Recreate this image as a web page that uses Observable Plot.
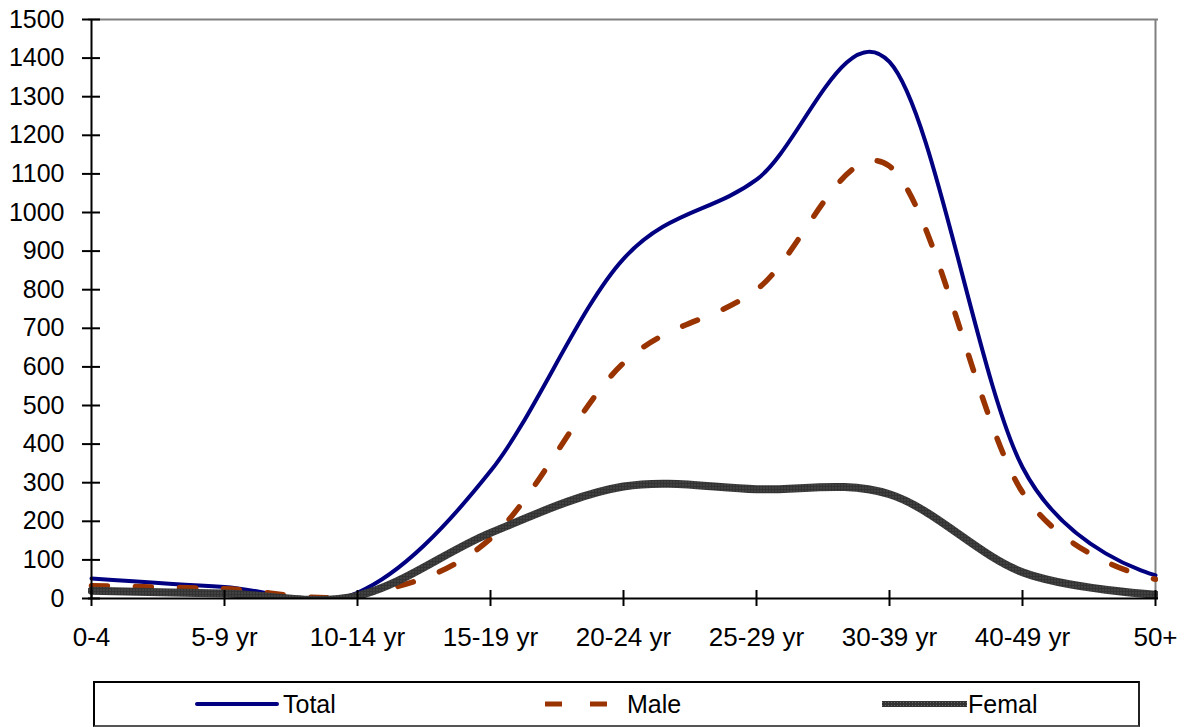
<!DOCTYPE html>
<html>
<head>
<meta charset="utf-8">
<script src="https://cdn.jsdelivr.net/npm/d3@7"></script>
<script src="https://cdn.jsdelivr.net/npm/@observablehq/plot@0.6"></script>
<style>
  html, body { margin: 0; padding: 0; background: #fff; }
  #wrap { position: relative; width: 1192px; height: 727px; overflow: hidden; font-family: "Liberation Sans", Arial, sans-serif; }
  #legend { position: absolute; left: 93px; top: 681px; width: 1043px; height: 42px; border: 2px solid #000; border-bottom-color: #555; border-right-color: #222; box-sizing: content-box; }
  .lg { position: absolute; font-size: 25px; top: 7px; color: #000; }
</style>
</head>
<body>
<div id="wrap"></div>
<script>
const categories = ["0-4", "5-9 yr", "10-14 yr", "15-19 yr", "20-24 yr", "25-29 yr", "30-39 yr", "40-49 yr", "50+"];
const total  = [52, 30, 15, 330, 880, 1085, 1390, 340, 60];
const male   = [33, 25, 9, 155, 610, 800, 1120, 275, 50];
const female = [20, 13, 7, 170, 290, 283, 270, 68, 10];
const yTicks = d3.range(0, 1501, 100);
const seriesNames = ["Total", "Male", "Femal"];

const rows = (vals) => categories.map((c, i) => ({cat: c, v: vals[i]}));

const plot = Plot.plot({
  width: 1192,
  height: 681,
  marginLeft: 88,
  marginRight: 34,
  marginTop: 19,
  marginBottom: 83,
  style: {fontFamily: "Liberation Sans, Arial, sans-serif", fontSize: "25px", color: "#000", background: "#fff"},
  x: {type: "point", domain: categories, padding: 0, range: [88, 1158], label: null},
  y: {domain: [0, 1500], range: [598, 19], label: null},
  marks: [
    Plot.ruleY([1500], {stroke: "#808080", strokeWidth: 2}),
    Plot.ruleX([categories[categories.length - 1]], {stroke: "#808080", strokeWidth: 2}),
    Plot.line(rows(total), {x: "cat", y: "v", curve: "cardinal", tension: 0, stroke: "#000080", strokeWidth: 4, clip: true}),
    Plot.line(rows(male), {x: "cat", y: "v", curve: "cardinal", tension: 0, stroke: "#993300", strokeWidth: 5.5, strokeDasharray: "16,28", clip: true}),
    Plot.line(rows(female), {x: "cat", y: "v", curve: "cardinal", tension: 0, stroke: "#3d3d3d", strokeWidth: 8, clip: true}),
    Plot.ruleX([categories[0]], {stroke: "#000", strokeWidth: 2}),
    Plot.ruleY([0], {stroke: "#000", strokeWidth: 2}),
    Plot.ruleY(yTicks, {y: d => d, x1: () => categories[0], x2: () => categories[0], insetLeft: -9, insetRight: -9, stroke: "#000", strokeWidth: 2}),
    Plot.ruleX(categories, {x: d => d, y1: () => 0, y2: () => 0, insetTop: -8, insetBottom: -8, stroke: "#000", strokeWidth: 2}),
    Plot.axisY({ticks: yTicks, tickSize: 0, tickPadding: 24, tickFormat: d => String(d), fontSize: 25, label: null}),
    Plot.axisX({tickSize: 0, tickPadding: 29, fontSize: 26, label: null})
  ]
});

const wrap = document.getElementById("wrap");
wrap.appendChild(plot);

// texture for female line
const svgNS = "http://www.w3.org/2000/svg";
const defs = document.createElementNS(svgNS, "defs");
defs.innerHTML = '<pattern id="fpat" width="3" height="3" patternUnits="userSpaceOnUse"><rect width="3" height="3" fill="#333"/><rect x="1" y="1" width="1" height="1" fill="#6a6a6a"/></pattern>';
plot.insertBefore(defs, plot.firstChild);
plot.querySelectorAll('[stroke="#3d3d3d"]').forEach(el => el.setAttribute("stroke", "url(#fpat)"));

// legend
const legend = document.createElement("div");
legend.id = "legend";
legend.innerHTML = `
  <svg width="1043" height="42" style="position:absolute;left:0;top:0">
    <defs><pattern id="fpat2" width="3" height="3" patternUnits="userSpaceOnUse"><rect width="3" height="3" fill="#333"/><rect x="1" y="1" width="1" height="1" fill="#6a6a6a"/></pattern></defs>
    <line x1="102" x2="182" y1="21" y2="21" stroke="#000080" stroke-width="4" stroke-linecap="round"/>
    <line x1="450" x2="532" y1="21" y2="21" stroke="#993300" stroke-width="5" stroke-dasharray="17,28"/>
    <line x1="787" x2="872" y1="21" y2="21" stroke="url(#fpat2)" stroke-width="6"/>
  </svg>
  <span class="lg" style="left:188px">${seriesNames[0]}</span>
  <span class="lg" style="left:532px">${seriesNames[1]}</span>
  <span class="lg" style="left:873px">${seriesNames[2]}</span>`;
wrap.appendChild(legend);
</script>
</body>
</html>
